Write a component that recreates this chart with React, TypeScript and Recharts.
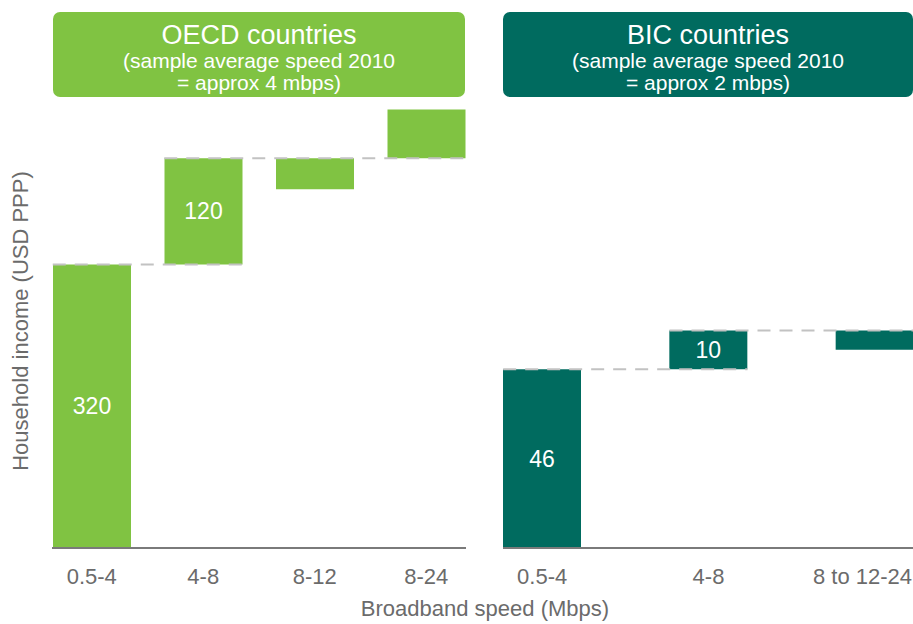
import { BarChart, Bar, XAxis, YAxis, ReferenceLine, LabelList } from 'recharts'

const FONT = '"Liberation Sans", Arial, Helvetica, sans-serif'
const GREEN = '#80c342'
const TEAL = '#006b5f'
const BAR = 78

// OECD panel
const oecdCategories = ['0.5-4', '4-8', '8-12', '8-24']
const oecdStart = [0, 320, 440, 440]
const oecdChange = [320, 120, -35, 55]
const oecdLabels = ['320', '120', '', '']

// BIC panel
const bicCategories = ['0.5-4', '4-8', '8 to 12-24']
const bicStart = [0, 46, 56]
const bicChange = [46, 10, -5]
const bicLabels = ['46', '10', '']

const buildRows = (cats: string[], start: number[], change: number[], labels: string[]) =>
  cats.map((c, i) => ({
    cat: c,
    range: [Math.min(start[i], start[i] + change[i]), Math.max(start[i], start[i] + change[i])],
    label: labels[i],
  }))

// a dashed link runs from the bar that ends at a level to the last bar that starts there
const buildLinks = (cats: string[], start: number[], change: number[]) => {
  const links: { level: number; from: string; to: string }[] = []
  start.forEach((s) => {
    if (s === 0 || links.some((l) => l.level === s)) return
    const from = start.findIndex((t, i) => t + change[i] === s)
    let to = from
    start.forEach((t, k) => { if (t === s) to = k })
    links.push({ level: s, from: cats[from], to: cats[to] })
  })
  return links
}

const Connector = (p: any) => (
  <line
    x1={p.x1 - BAR / 2} y1={p.y1} x2={p.x2 + BAR / 2} y2={p.y2}
    stroke="#c2c2c2" strokeWidth={2} strokeDasharray="13 9"
  />
)

const makeTick = (count: number, rightEdge?: number) => (props: any) => {
  const { x, y, payload, index } = props
  const last = rightEdge !== undefined && index === count - 1
  return (
    <text
      x={last ? rightEdge : x} y={y + 36}
      textAnchor={last ? 'end' : 'middle'}
      fill="#6b6b6b" fontSize={22} fontFamily={FONT}
    >
      {payload.value}
    </text>
  )
}

interface PanelProps {
  rows: any[]
  links: { level: number; from: string; to: string }[]
  color: string
  domain: [number, number]
  width: number
  margin: { top: number; right: number; bottom: number; left: number }
  padding: { left: number; right: number }
  tick: any
}

function Panel({ rows, links, color, domain, width, margin, padding, tick }: PanelProps) {
  return (
    <BarChart width={width} height={624} data={rows} margin={margin}>
      <XAxis
        dataKey="cat"
        height={30}
        axisLine={{ stroke: '#7a7a7a', strokeWidth: 2 }}
        tickLine={false}
        tickSize={0}
        tickMargin={0}
        padding={padding}
        interval={0}
        tick={tick}
      />
      <YAxis hide domain={domain} />
      <Bar dataKey="range" fill={color} barSize={BAR} isAnimationActive={false}>
        <LabelList dataKey="label" position="center" fill="#fff" fontSize={23} fontFamily={FONT} />
      </Bar>
      {links.map((l) => (
        <ReferenceLine
          key={l.level}
          segment={[{ x: l.from, y: l.level }, { x: l.to, y: l.level }]}
          shape={Connector}
        />
      ))}
    </BarChart>
  )
}

export default function App() {
  return (
    <div style={{ position: 'absolute', left: 0, top: 0, width: 913, height: 624, background: '#fff', fontFamily: FONT }}>
      <div style={{ position: 'absolute', left: 0, top: 0 }}>
        <Panel
          rows={buildRows(oecdCategories, oecdStart, oecdChange, oecdLabels)}
          links={buildLinks(oecdCategories, oecdStart, oecdChange)}
          color={GREEN}
          domain={[0, 500]}
          width={480}
          margin={{ top: 105, right: 14, bottom: 46, left: 52 }}
          padding={{ left: -16, right: -16 }}
          tick={makeTick(oecdCategories.length)}
        />
      </div>
      <div style={{ position: 'absolute', left: 480, top: 0 }}>
        <Panel
          rows={buildRows(bicCategories, bicStart, bicChange, bicLabels)}
          links={buildLinks(bicCategories, bicStart, bicChange)}
          color={TEAL}
          domain={[0, 114]}
          width={433}
          margin={{ top: 105, right: 0, bottom: 46, left: 23 }}
          padding={{ left: -44, right: -45 }}
          tick={makeTick(bicCategories.length, 432)}
        />
      </div>
      <svg width={913} height={624} style={{ position: 'absolute', left: 0, top: 0, pointerEvents: 'none' }} fontFamily={FONT}>
        <rect x={53} y={12} width={412} height={85} rx={7} fill={GREEN} />
        <rect x={503} y={12} width={410} height={85} rx={7} fill={TEAL} />
        <g fill="#fff" textAnchor="middle">
          <text x={259} y={44} fontSize={27}>OECD countries</text>
          <text x={259} y={68} fontSize={21}>(sample average speed 2010</text>
          <text x={259} y={90} fontSize={21}>= approx 4 mbps)</text>
          <text x={708} y={44} fontSize={27}>BIC countries</text>
          <text x={708} y={68} fontSize={21}>(sample average speed 2010</text>
          <text x={708} y={90} fontSize={21}>= approx 2 mbps)</text>
        </g>
        <text x={28} y={321} fontSize={22} fill="#6b6b6b" textAnchor="middle" transform="rotate(-90 28 321)">
          Household income (USD PPP)
        </text>
        <text x={485} y={616} fontSize={22} fill="#6b6b6b" textAnchor="middle">
          Broadband speed (Mbps)
        </text>
      </svg>
    </div>
  )
}
